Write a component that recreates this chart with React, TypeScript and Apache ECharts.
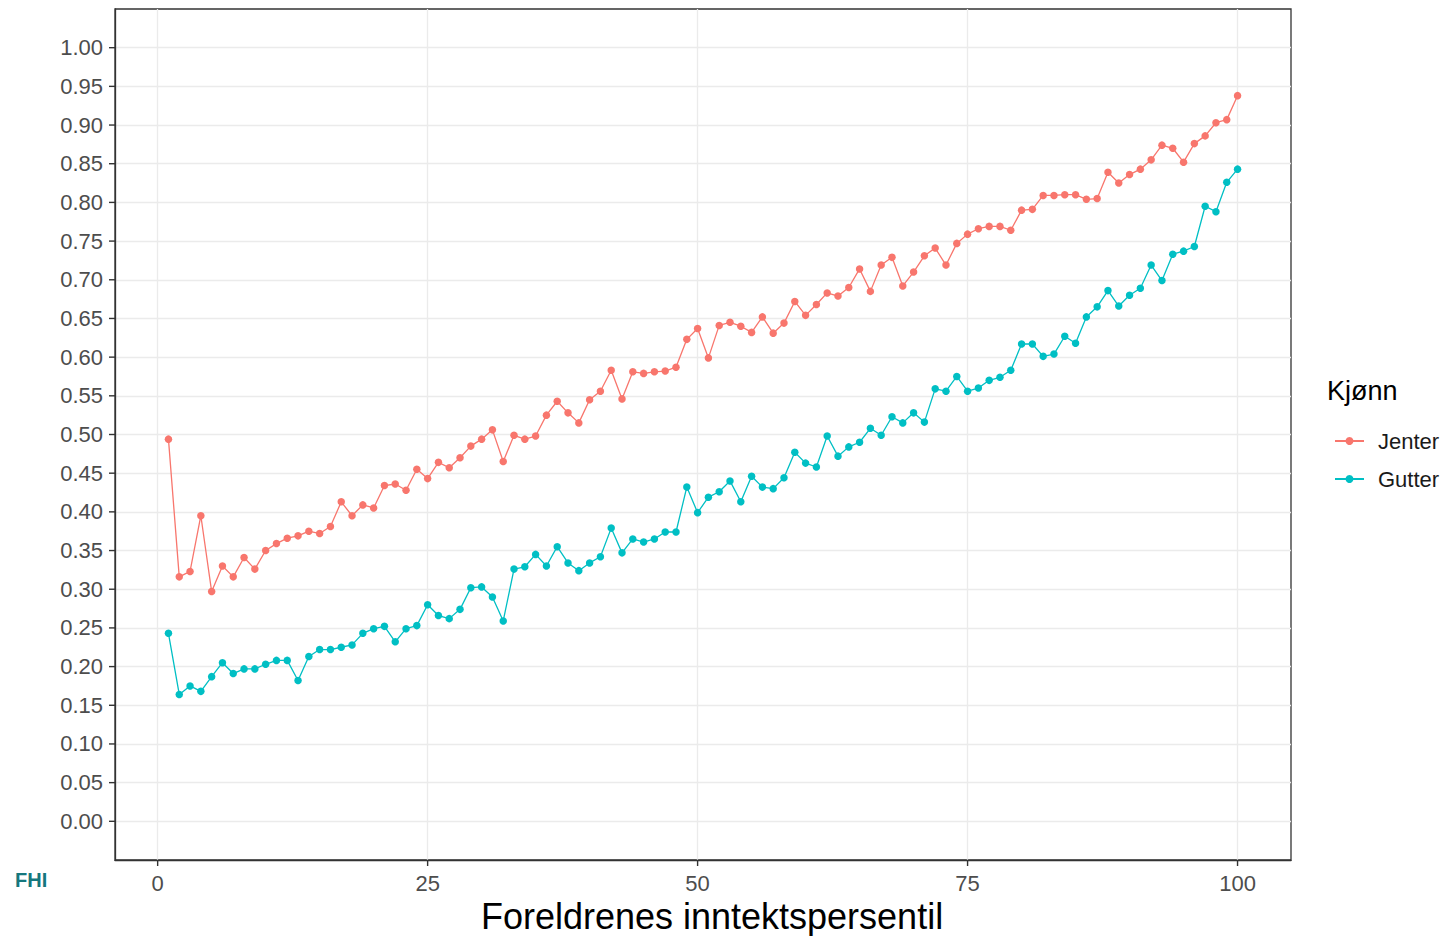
import React, { useEffect, useRef } from "react";
import * as echarts from "echarts";

const percentiles = [
  1, 2, 3, 4, 5, 6, 7, 8, 9, 10,
  11, 12, 13, 14, 15, 16, 17, 18, 19, 20,
  21, 22, 23, 24, 25, 26, 27, 28, 29, 30,
  31, 32, 33, 34, 35, 36, 37, 38, 39, 40,
  41, 42, 43, 44, 45, 46, 47, 48, 49, 50,
  51, 52, 53, 54, 55, 56, 57, 58, 59, 60,
  61, 62, 63, 64, 65, 66, 67, 68, 69, 70,
  71, 72, 73, 74, 75, 76, 77, 78, 79, 80,
  81, 82, 83, 84, 85, 86, 87, 88, 89, 90,
  91, 92, 93, 94, 95, 96, 97, 98, 99, 100,
];

const jenter = [
  0.494, 0.316, 0.323, 0.395, 0.297, 0.330, 0.316, 0.341, 0.326, 0.350,
  0.359, 0.366, 0.369, 0.375, 0.372, 0.381, 0.413, 0.395, 0.409, 0.405,
  0.434, 0.436, 0.428, 0.455, 0.443, 0.464, 0.457, 0.470, 0.485, 0.494,
  0.506, 0.465, 0.499, 0.494, 0.498, 0.525, 0.543, 0.528, 0.515, 0.545,
  0.556, 0.583, 0.546, 0.581, 0.579, 0.581, 0.582, 0.587, 0.623, 0.637,
  0.599, 0.641, 0.645, 0.640, 0.632, 0.652, 0.631, 0.644, 0.672, 0.654,
  0.668, 0.683, 0.679, 0.690, 0.714, 0.685, 0.719, 0.729, 0.692, 0.710,
  0.731, 0.741, 0.719, 0.747, 0.759, 0.766, 0.769, 0.769, 0.764, 0.790,
  0.791, 0.809, 0.809, 0.810, 0.810, 0.804, 0.805, 0.839, 0.825, 0.836,
  0.843, 0.855, 0.874, 0.870, 0.852, 0.876, 0.886, 0.903, 0.907, 0.938,
];

const gutter = [
  0.243, 0.164, 0.175, 0.168, 0.187, 0.205, 0.191, 0.197, 0.197, 0.203,
  0.208, 0.208, 0.182, 0.213, 0.222, 0.222, 0.225, 0.228, 0.243, 0.249,
  0.252, 0.232, 0.249, 0.253, 0.280, 0.266, 0.262, 0.274, 0.302, 0.303,
  0.290, 0.259, 0.326, 0.329, 0.345, 0.330, 0.355, 0.334, 0.324, 0.334,
  0.342, 0.379, 0.347, 0.365, 0.361, 0.365, 0.374, 0.374, 0.432, 0.399,
  0.419, 0.426, 0.440, 0.413, 0.446, 0.432, 0.430, 0.444, 0.477, 0.463,
  0.458, 0.498, 0.472, 0.484, 0.490, 0.508, 0.499, 0.523, 0.515, 0.528,
  0.516, 0.559, 0.556, 0.575, 0.556, 0.560, 0.570, 0.574, 0.583, 0.617,
  0.617, 0.601, 0.604, 0.627, 0.618, 0.652, 0.665, 0.686, 0.666, 0.680,
  0.689, 0.719, 0.699, 0.733, 0.737, 0.743, 0.795, 0.788, 0.826, 0.843,
];

const xTicks = [0, 25, 50, 75, 100];
const yTicks = [
  0, 0.05, 0.1, 0.15, 0.2, 0.25, 0.3, 0.35, 0.4, 0.45, 0.5,
  0.55, 0.6, 0.65, 0.7, 0.75, 0.8, 0.85, 0.9, 0.95, 1.0,
];

const seriesNames = ["Jenter", "Gutter"];
const colors = ["#F8766D", "#00BFC4"];

const X_MIN = -3.95;
const X_MAX = 104.95;
const Y_MIN = -0.05;
const Y_MAX = 1.05;

const FONT = "Liberation Sans, Arial, sans-serif";

export default function App() {
  const ref = useRef<HTMLDivElement>(null);

  useEffect(() => {
    if (!ref.current) return;
    const chart = echarts.init(ref.current, undefined, { renderer: "svg" });
    const mk = (name: string, vals: number[], color: string) => ({
      name,
      type: "line",
      data: percentiles.map((p, i) => [p, vals[i]]),
      symbol: "circle",
      symbolSize: 7.5,
      lineStyle: { color, width: 1.3 },
      itemStyle: { color },
      z: 5,
    });
    const axisLine = {
      show: true,
      onZero: false,
      lineStyle: { color: "#333333", width: 1.3 },
    };
    const tickStyle = { stroke: "#333333", lineWidth: 1.4 };
    const tickData = [
      ...yTicks.map((v) => [X_MIN, v, 0]),
      ...xTicks.map((v) => [v, Y_MIN, 1]),
    ];
    chart.setOption({
      animation: false,
      backgroundColor: "#ffffff",
      textStyle: { fontFamily: FONT },
      grid: {
        left: 115,
        right: 154,
        top: 9,
        height: 851,
        show: true,
        borderColor: "#333333",
        borderWidth: 1.3,
        backgroundColor: "transparent",
        containLabel: false,
        outerBoundsMode: "none",
      },
      xAxis: {
        type: "value",
        min: X_MIN,
        max: X_MAX,
        axisLine,
        axisTick: {
          show: false,
          customValues: xTicks,
        },
        axisLabel: {
          customValues: xTicks,
          fontSize: 22,
          lineHeight: 22,
          color: "#4D4D4D",
          margin: 12,
          fontFamily: FONT,
        },
        splitLine: { show: true, lineStyle: { color: "#EBEBEB", width: 1.3 } },
        name: "Foreldrenes inntektspersentil",
        nameLocation: "middle",
        nameGap: 37,
        nameTextStyle: {
          fontSize: 36,
          color: "#000000",
          fontFamily: FONT,
          verticalAlign: "top",
          lineHeight: 36,
          padding: [0, 0, 0, 18],
        },
      },
      yAxis: {
        type: "value",
        min: Y_MIN,
        max: Y_MAX,
        interval: 0.05,
        axisLine,
        axisTick: {
          show: false,
          customValues: yTicks,
        },
        axisLabel: {
          customValues: yTicks,
          fontSize: 22,
          color: "#4D4D4D",
          margin: 12,
          fontFamily: FONT,
          formatter: (v: number) => v.toFixed(2),
        },
        splitLine: { show: true, lineStyle: { color: "#EBEBEB", width: 1.3 } },
      },
      legend: {
        orient: "vertical",
        left: 1329,
        top: 425,
        itemWidth: 29,
        itemHeight: 10,
        itemGap: 16,
        data: seriesNames,
        textStyle: {
          fontSize: 22,
          lineHeight: 21,
          color: "#1A1A1A",
          fontFamily: FONT,
          padding: [0, 0, 0, 9],
        },
      },
      graphic: [
        {
          type: "text",
          left: 1327,
          top: 377,
          style: {
            text: "Kjønn",
            fontSize: 27,
            fill: "#000000",
            fontFamily: FONT,
          },
        },
        {
          type: "text",
          left: 15,
          top: 870,
          style: {
            text: "FHI",
            fontSize: 20,
            fontWeight: "bold",
            fill: "#15777D",
            fontFamily: FONT,
          },
        },
      ],
      series: [
        mk(seriesNames[0], jenter, colors[0]),
        mk(seriesNames[1], gutter, colors[1]),
        {
          type: "custom",
          name: "ticks",
          clip: false,
          silent: true,
          z: 10,
          data: tickData,
          renderItem: (params: any, api: any) => {
            const p = api.coord([api.value(0), api.value(1)]);
            const isX = api.value(2) === 1;
            return {
              type: "line",
              shape: isX
                ? { x1: p[0], y1: p[1], x2: p[0], y2: p[1] + 6 }
                : { x1: p[0] - 6, y1: p[1], x2: p[0], y2: p[1] },
              style: tickStyle,
            };
          },
        },
      ],
    });
    return () => chart.dispose();
  }, []);

  return (
    <div
      ref={ref}
      style={{ position: "fixed", left: 0, top: 0, width: 1445, height: 936 }}
    />
  );
}
